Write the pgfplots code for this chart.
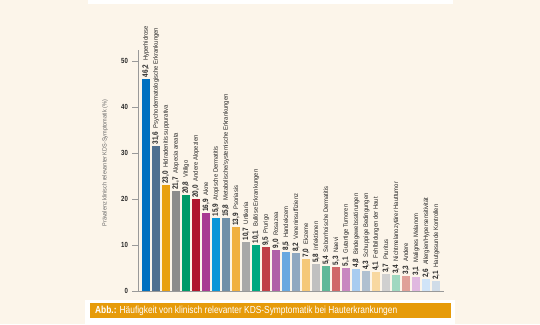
\documentclass[border=0pt]{standalone}
\usepackage{pgfplots}
\pgfplotsset{compat=1.18}
\usepackage{fontspec}
\setmainfont[FakeStretch=0.82]{Liberation Sans}
\newfontfamily\catfont[FakeStretch=0.9]{Liberation Sans}
\definecolor{bgbeige}{HTML}{FCF5EA}
\definecolor{capor}{HTML}{E69B0A}
\definecolor{c1}{HTML}{0070C0}
\definecolor{c2}{HTML}{4F7090}
\definecolor{c3}{HTML}{E8A010}
\definecolor{c4}{HTML}{8C8C8C}
\definecolor{c5}{HTML}{009A68}
\definecolor{c6}{HTML}{B0162E}
\definecolor{c7}{HTML}{A83A92}
\definecolor{c8}{HTML}{0A96D8}
\definecolor{c9}{HTML}{7090A8}
\definecolor{c10}{HTML}{F0B040}
\definecolor{c11}{HTML}{A8A8A8}
\definecolor{c12}{HTML}{00A880}
\definecolor{c13}{HTML}{C04048}
\definecolor{c14}{HTML}{B060A8}
\definecolor{c15}{HTML}{68A8E0}
\definecolor{c16}{HTML}{90A8C0}
\definecolor{c17}{HTML}{F5C878}
\definecolor{c18}{HTML}{C0C0C0}
\definecolor{c19}{HTML}{60B898}
\definecolor{c20}{HTML}{D06868}
\definecolor{c21}{HTML}{C888C0}
\definecolor{c22}{HTML}{A8CCF0}
\definecolor{c23}{HTML}{B0C0D0}
\definecolor{c24}{HTML}{F8D8A0}
\definecolor{c25}{HTML}{D0D0D0}
\definecolor{c26}{HTML}{A0D8C0}
\definecolor{c27}{HTML}{E0A098}
\definecolor{c28}{HTML}{E0B8E0}
\definecolor{c29}{HTML}{D0E4F8}
\definecolor{c30}{HTML}{D0DCE8}
\pgfplotsset{
  mybar/.style 2 args={ybar, bar width=8.3pt, bar shift=0pt, fill=#1, draw=none,
    nodes near coords={\pgfmathprintnumber[fixed,fixed zerofill,precision=1,use comma]{\pgfplotspointmeta}\hspace{3.8pt}{\catfont\fontsize{6.5}{7}\selectfont\mdseries #2}},
    every node near coord/.style={rotate=90, anchor=west, inner sep=1.2pt, font=\fontsize{7.8}{8}\selectfont\bfseries, text=black!85}},
}
\begin{document}
\begin{tikzpicture}[x=1pt,y=1pt]
\fill[bgbeige] (0,0) rectangle (540,324);
\useasboundingbox (0,0) rectangle (540,324);
\fill[white] (88,320) rectangle (453,324);
\fill[white] (85,0) rectangle (455,24);
\fill[capor] (90,6) rectangle (451,21);
\node[anchor=west, text=white, font=\fontsize{10.2}{11}\selectfont, inner sep=0pt] at (95,13.5) {\textbf{Abb.:} Häufigkeit von klinisch relevanter KDS-Symptomatik bei Hauterkrankungen};
\begin{axis}[
  at={(138pt,33pt)}, anchor=south west,
  scale only axis, width=306pt, height=241pt,
  xmin=-0.785, xmax=29.8, ymin=0, ymax=52.4,
  axis lines=left, axis line style={-, draw=gray!80},
  xtick=\empty, ytick={0,10,...,50},
  tick align=outside, major tick length=6pt,
  tick style={draw=gray!80, thick},
  /pgf/number format/assume math mode=true,
  yticklabel style={font=\fontsize{7.4}{8}\selectfont\bfseries, text=black!85, xshift=-0.5pt},
  ylabel={Prävalenz klinisch relevanter KDS-Symptomatik (\%)},
  ylabel style={at={(axis description cs:-0.108,0.53)}, anchor=center, font=\catfont\fontsize{6.1}{7}\selectfont, text=black!60},
  clip=false,
]
\addplot[mybar={c1}{Hyperhidrose}] coordinates {(0,46.2)};
\addplot[mybar={c2}{Psychodermatologische Erkrankungen}] coordinates {(1,31.6)};
\addplot[mybar={c3}{Hidradenitis suppurativa}] coordinates {(2,23.0)};
\addplot[mybar={c4}{Alopecia areata}] coordinates {(3,21.7)};
\addplot[mybar={c5}{Vitiligo}] coordinates {(4,20.8)};
\addplot[mybar={c6}{Andere Alopezien}] coordinates {(5,20.0)};
\addplot[mybar={c7}{Akne}] coordinates {(6,16.9)};
\addplot[mybar={c8}{Atopische Dermatitis}] coordinates {(7,15.9)};
\addplot[mybar={c9}{Metabolische/systemische Erkrankungen}] coordinates {(8,15.8)};
\addplot[mybar={c10}{Psoriasis}] coordinates {(9,13.9)};
\addplot[mybar={c11}{Urtikaria}] coordinates {(10,10.7)};
\addplot[mybar={c12}{Bullöse Erkrankungen}] coordinates {(11,10.1)};
\addplot[mybar={c13}{Prurigo}] coordinates {(12,9.5)};
\addplot[mybar={c14}{Rosazea}] coordinates {(13,9.0)};
\addplot[mybar={c15}{Handekzem}] coordinates {(14,8.5)};
\addplot[mybar={c16}{Veneninsuffizienz}] coordinates {(15,8.2)};
\addplot[mybar={c17}{Ekzeme}] coordinates {(16,7.0)};
\addplot[mybar={c18}{Infektionen}] coordinates {(17,5.8)};
\addplot[mybar={c19}{Seborrhoische Dermatitis}] coordinates {(18,5.4)};
\addplot[mybar={c20}{Naevi}] coordinates {(19,5.3)};
\addplot[mybar={c21}{Gutartige Tumoren}] coordinates {(20,5.1)};
\addplot[mybar={c22}{Bindegewebsstörungen}] coordinates {(21,4.8)};
\addplot[mybar={c23}{Schuppige Bedingungen}] coordinates {(22,4.3)};
\addplot[mybar={c24}{Fehlbildungen der Haut}] coordinates {(23,4.1)};
\addplot[mybar={c25}{Pruritus}] coordinates {(24,3.7)};
\addplot[mybar={c26}{Nichtmelanozytärer Hauttumor}] coordinates {(25,3.4)};
\addplot[mybar={c27}{Andere}] coordinates {(26,3.3)};
\addplot[mybar={c28}{Malignes Melanom}] coordinates {(27,3.1)};
\addplot[mybar={c29}{Allergien/Hypersensitivität}] coordinates {(28,2.6)};
\addplot[mybar={c30}{Hautgesunde Kontrollen}] coordinates {(29,2.1)};
\end{axis}
\end{tikzpicture}
\end{document}
